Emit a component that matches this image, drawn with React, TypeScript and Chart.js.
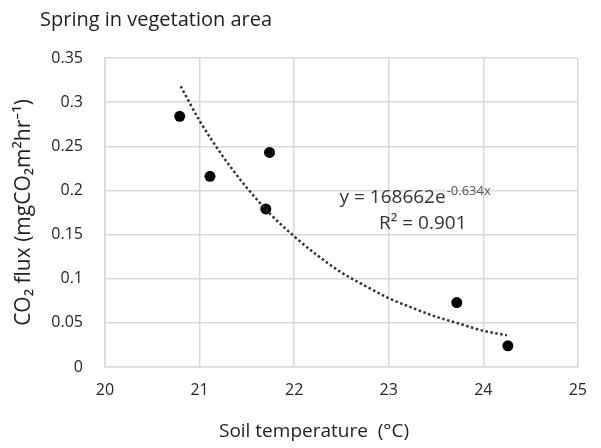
import React, { useEffect, useRef } from "react";
import { Chart, registerables } from "chart.js";

Chart.register(...registerables);

const titleText = "Spring in vegetation area";
const xAxisTitle = "Soil temperature  (°C)";
const yAxisTitle = "CO₂ flux (mgCO₂m²hr⁻¹)";
const equationMain = "y = 168662e";
const equationExp = "-0.634x";
const rSquaredText = "R² = 0.901";

const soilTemp = [20.79, 21.11, 21.7, 21.74, 23.72, 24.26];
const co2Flux = [0.284, 0.216, 0.179, 0.243, 0.073, 0.024];

const trendX = [20.8, 21.0, 21.25, 21.5, 21.75, 22.0, 22.25, 22.5, 22.75, 23.0, 23.25, 23.5, 23.75, 24.0, 24.25];
const trendY = [0.318, 0.279, 0.238, 0.203, 0.173, 0.148, 0.126, 0.107, 0.092, 0.078, 0.067, 0.057, 0.049, 0.041, 0.036];

const xMin = 20, xMax = 25, xStep = 1;
const yMin = 0, yMax = 0.35, yStep = 0.05;

const FONT = "'Open Sans', 'Noto Sans', sans-serif";

export default function App() {
  const ref = useRef<HTMLCanvasElement | null>(null);
  useEffect(() => {
    document.body.style.margin = "0";
    const canvas = ref.current;
    if (!canvas) return;
    const textPlugin = {
      id: "texts",
      afterDraw(chart: any) {
        const ctx = chart.ctx;
        const xs = chart.scales.x;
        const ys = chart.scales.y;
        const area = chart.chartArea;
        ctx.save();
        // title
        ctx.fillStyle = "#1f1f1f";
        ctx.font = `20px ${FONT}`;
        ctx.textAlign = "left";
        ctx.textBaseline = "middle";
        ctx.fillText(titleText, 40, 20);
        // x axis title
        ctx.font = `19px ${FONT}`;
        ctx.textAlign = "center";
        ctx.fillText(xAxisTitle, 314, 432);
        // y axis title
        ctx.save();
        ctx.translate(24, (area.top + area.bottom) / 2);
        ctx.rotate(-Math.PI / 2);
        ctx.font = `21px ${FONT}`;
        ctx.textAlign = "center";
        ctx.fillText(yAxisTitle, 0, 0);
        ctx.restore();
        // equation
        ctx.fillStyle = "#333333";
        const ex = xs.getPixelForValue(22.48);
        const ey = ys.getPixelForValue(0.192);
        ctx.font = `19px ${FONT}`;
        ctx.textAlign = "left";
        ctx.fillText(equationMain, ex, ey);
        const w = ctx.measureText(equationMain).width;
        ctx.font = `13px ${FONT}`;
        ctx.fillStyle = "#555555";
        ctx.fillText(equationExp, ex + w + 1, ey - 6);
        ctx.fillStyle = "#333333";
        ctx.font = `19px ${FONT}`;
        ctx.textAlign = "center";
        ctx.fillText(rSquaredText, xs.getPixelForValue(23.36), ys.getPixelForValue(0.163));
        ctx.restore();
      },
    };
    const chart = new Chart(canvas, {
      type: "scatter",
      data: {
        datasets: [
          {
            label: "trend",
            data: trendX.map((x, i) => ({ x, y: trendY[i] })),
            showLine: true,
            borderColor: "#333333",
            borderWidth: 2.5,
            borderDash: [2.5, 2.5],
            pointRadius: 0,
            cubicInterpolationMode: "monotone",
            fill: false,
          },
          {
            label: "data",
            data: soilTemp.map((x, i) => ({ x, y: co2Flux[i] })),
            backgroundColor: "#000000",
            borderColor: "#000000",
            pointRadius: 5.5,
            pointBorderWidth: 0,
          },
        ],
      },
      options: {
        animation: false,
        responsive: false,
        layout: { padding: { top: 58, right: 16, bottom: 0, left: 0 } },
        plugins: { legend: { display: false }, tooltip: { enabled: false }, title: { display: false } },
        scales: {
          x: {
            type: "linear",
            min: xMin,
            max: xMax,
            ticks: { stepSize: xStep, color: "#262626", font: { size: 16, family: FONT }, padding: 14 },
            grid: { color: "#d9d9d9", lineWidth: 1.5, drawTicks: false },
            border: { color: "#d9d9d9", width: 1.5 },
            afterFit: (s: any) => { s.height = 81; },
          },
          y: {
            type: "linear",
            min: yMin,
            max: yMax,
            ticks: {
              stepSize: yStep,
              color: "#262626",
              font: { size: 16, family: FONT },
              padding: 22,
              callback: (v: any) => String(Math.round(Number(v) * 100) / 100),
            },
            grid: { color: "#d9d9d9", lineWidth: 1.5, drawTicks: false },
            border: { color: "#d9d9d9", width: 1.5 },
            afterFit: (s: any) => { s.width = 105; },
          },
        },
      },
      plugins: [textPlugin],
    } as any);
    return () => chart.destroy();
  }, []);
  return <canvas ref={ref} width={601} height={448} style={{ display: "block" }} />;
}
